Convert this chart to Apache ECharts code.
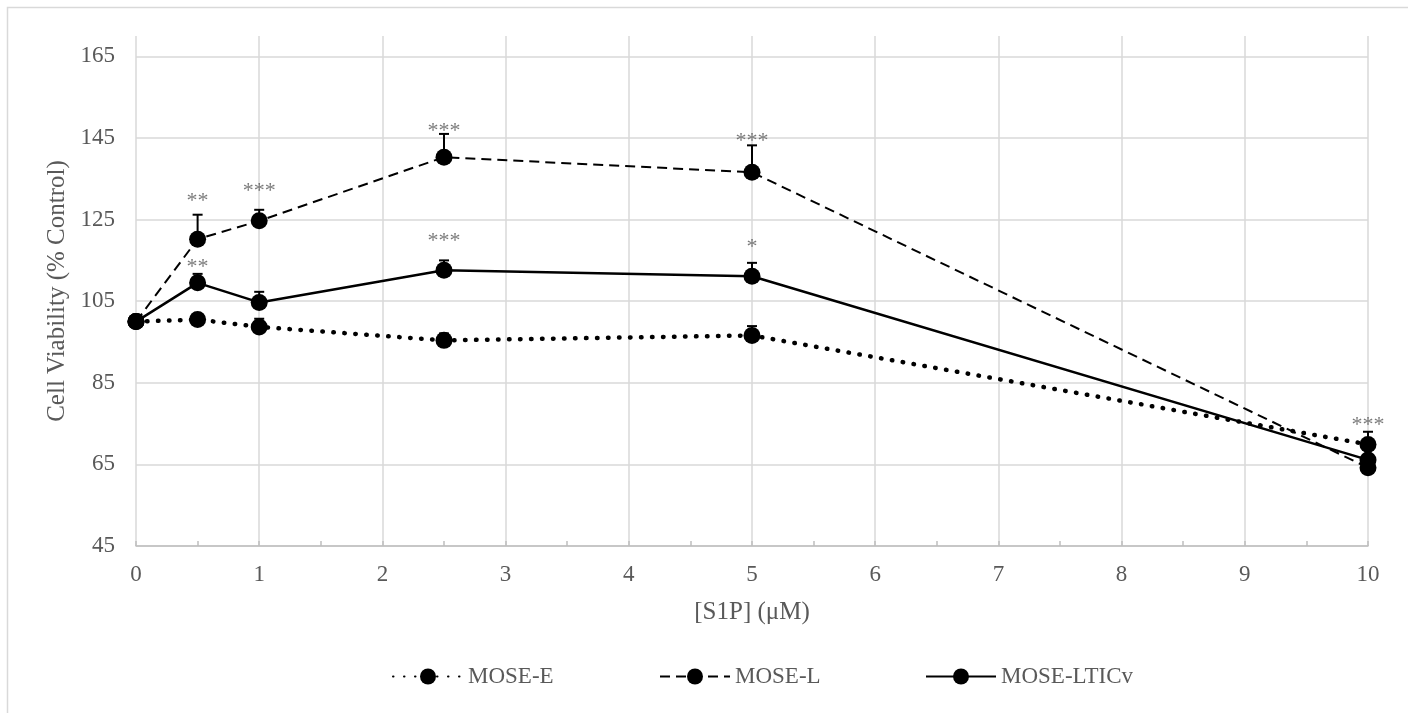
<!DOCTYPE html>
<html>
<head>
<meta charset="utf-8">
<script src="https://cdn.jsdelivr.net/npm/echarts@6/dist/echarts.min.js"></script>
<style>
  html, body { margin: 0; padding: 0; background: #ffffff; }
  #chart { width: 1408px; height: 713px; }
</style>
</head>
<body>
<div id="chart"></div>
<script>
// ---- data ----
const xValues   = [0, 0.5, 1, 2.5, 5, 10];
const moseE     = [100, 100.5, 98.7, 95.4, 96.6, 69.9];
const moseEErr  = [0.8, 1.0, 2.0, 1.7, 2.3, 3.1];
const moseL     = [100, 120.2, 124.7, 140.3, 136.6, 64.2];
const moseLErr  = [1.0, 6.0, 2.7, 5.7, 6.6, 1.0];
const moseLT    = [100, 109.5, 104.7, 112.6, 111.1, 66.1];
const moseLTErr = [1.0, 2.2, 2.6, 2.4, 3.3, 1.0];
const seriesNames = ['MOSE-E', 'MOSE-L', 'MOSE-LTICv'];

const starX    = [0.5, 1, 2.5, 5, 0.5, 2.5, 5, 10];
const starY    = [130.5, 133.0, 147.7, 145.1, 114.3, 120.8, 119.3, 75.6];
const starText = ['**', '***', '***', '***', '**', '***', '*', '***'];

const yTicks = { min: 45, max: 170, interval: 20 };
const xTicks = { min: 0, max: 10, interval: 1 };

// ---- helpers ----
const FONT = 'Liberation Serif';
const TXT = '#595959';
const pairs = (ys) => xValues.map((x, i) => [x, ys[i]]);
const triples = (ys, es) => xValues.map((x, i) => [x, ys[i], es[i]]);

function renderErr(params, api) {
  const x = api.value(0), y = api.value(1), e = api.value(2);
  const base = api.coord([x, y]);
  const top = api.coord([x, y + e]);
  const half = 5;
  return {
    type: 'group',
    children: [
      { type: 'line', shape: { x1: base[0], y1: base[1], x2: top[0], y2: top[1] },
        style: { stroke: '#000', lineWidth: 2 } },
      { type: 'line', shape: { x1: top[0] - half, y1: top[1], x2: top[0] + half, y2: top[1] },
        style: { stroke: '#000', lineWidth: 2 } }
    ]
  };
}

function lineSeries(name, ys, lineStyle) {
  return {
    name: name,
    type: 'line',
    data: pairs(ys),
    symbol: 'circle',
    symbolSize: 17,
    showAllSymbol: true,
    itemStyle: { color: '#000' },
    lineStyle: Object.assign({ color: '#000' }, lineStyle),
    z: 3,
    animation: false
  };
}

function errSeries(name, ys, es) {
  return {
    name: name,
    type: 'custom',
    renderItem: renderErr,
    data: triples(ys, es),
    encode: { x: 0, y: 1 },
    z: 2,
    silent: true,
    animation: false
  };
}

// Excel lays legend entries out in equal-width columns
const legendLefts = [387, 654, 920];
function legendFor(i) {
  return {
    data: [seriesNames[i]],
    left: legendLefts[i],
    top: 660,
    itemWidth: 70,
    itemHeight: 20,
    textStyle: { color: TXT, fontSize: 23, fontFamily: FONT },
    selectedMode: false
  };
}

const chart = echarts.init(document.getElementById('chart'), null, { renderer: 'canvas' });

const option = {
  animation: false,
  backgroundColor: '#ffffff',
  textStyle: { fontFamily: FONT },
  grid: { left: 136, right: 40, top: 36, bottom: 167 },
  graphic: [{
    type: 'rect',
    silent: true,
    shape: { x: 7.5, y: 7.5, width: 1500, height: 800 },
    style: { fill: 'none', stroke: '#d9d9d9', lineWidth: 1.5 },
    z: -1
  }],
  legend: [legendFor(0), legendFor(1), legendFor(2)],
  xAxis: {
    type: 'value',
    min: xTicks.min,
    max: xTicks.max,
    interval: xTicks.interval,
    name: '[S1P] (μM)',
    nameLocation: 'middle',
    nameGap: 54,
    nameTextStyle: { color: TXT, fontSize: 25, fontFamily: FONT },
    axisLine: { show: true, lineStyle: { color: '#bfbfbf', width: 1.5 } },
    axisTick: { show: true, inside: true, length: 5, lineStyle: { color: '#bfbfbf', width: 1.5 } },
    minorTick: { show: true, splitNumber: 2, length: 5, lineStyle: { color: '#bfbfbf', width: 1.5 } },
    axisLabel: { color: TXT, fontSize: 23, fontFamily: FONT, margin: 17 },
    splitLine: { show: true, lineStyle: { color: '#d9d9d9', width: 1.5 } }
  },
  yAxis: {
    type: 'value',
    min: yTicks.min,
    max: yTicks.max,
    interval: yTicks.interval,
    name: 'Cell Viability (% Control)',
    nameLocation: 'middle',
    nameGap: 65,
    nameTextStyle: { color: TXT, fontSize: 25, fontFamily: FONT },
    axisLine: { show: false },
    axisTick: { show: false },
    axisLabel: { color: TXT, fontSize: 23, fontFamily: FONT, margin: 21, showMaxLabel: false },
    splitLine: { show: true, showMaxLine: false, lineStyle: { color: '#d9d9d9', width: 1.5 } }
  },
  series: [
    errSeries('err-E', moseE, moseEErr),
    errSeries('err-L', moseL, moseLErr),
    errSeries('err-LT', moseLT, moseLTErr),
    lineSeries(seriesNames[0], moseE, { width: 4.5, type: [0.5, 10.5], cap: 'round' }),
    lineSeries(seriesNames[1], moseL, { width: 2, type: [10, 6] }),
    lineSeries(seriesNames[2], moseLT, { width: 2.5, type: 'solid' }),
    {
      name: 'stars',
      type: 'scatter',
      data: starX.map((x, i) => ({ value: [x, starY[i]], name: starText[i] })),
      symbolSize: 1,
      itemStyle: { color: 'rgba(0,0,0,0)' },
      label: {
        show: true,
        position: 'inside',
        formatter: '{b}',
        color: TXT,
        fontSize: 22,
        fontFamily: FONT,
        offset: [0, 4]
      },
      silent: true,
      z: 5,
      animation: false
    }
  ]
};

chart.setOption(option);
</script>
</body>
</html>
